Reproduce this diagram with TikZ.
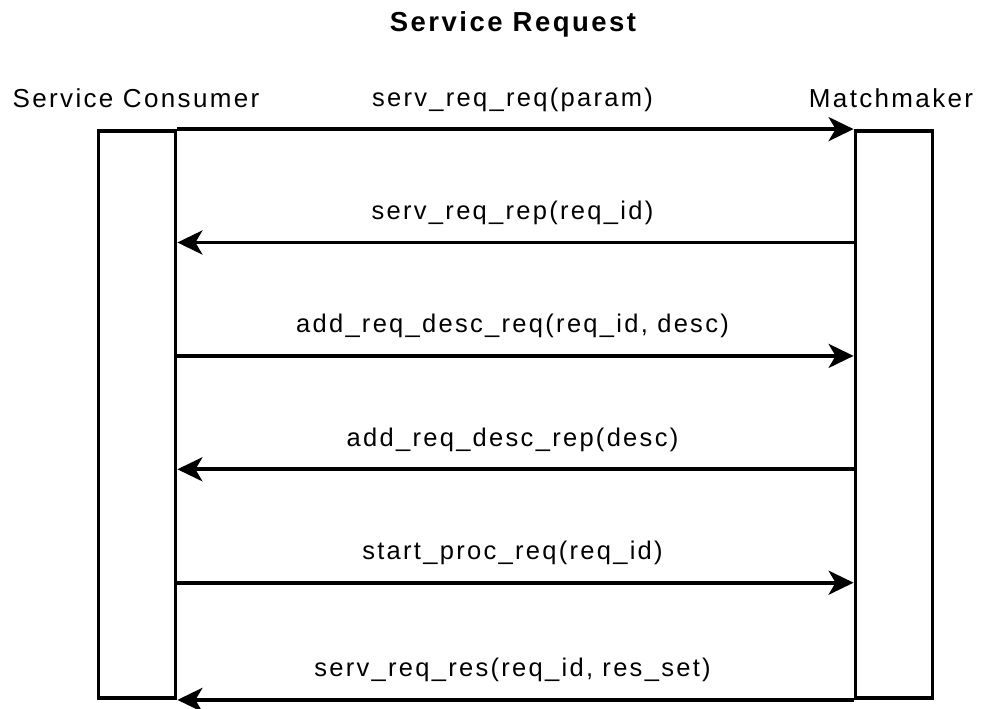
\documentclass[tikz,border=0pt]{standalone}
\usepackage{fontspec}
\setmainfont{Liberation Sans}[LetterSpace=9]
\usepackage{tikz}
\usetikzlibrary{arrows.meta,calc}

\begin{document}
\begin{tikzpicture}[x=1bp,y=-1bp,
        bar/.style={draw=black, line width=3.8bp, minimum width=77bp, minimum height=567bp, inner sep=0pt},
        msg/.style={line width=3.8bp, -{Stealth[length=25bp, width=24bp, inset=7bp]}},
        lbl/.style={anchor=base, yshift=23bp, xshift=-3bp, inner sep=0pt, font=\fontsize{25.5bp}{30bp}\selectfont},
        who/.style={anchor=base, inner sep=0pt, font=\fontsize{26bp}{30bp}\selectfont}]
    \useasboundingbox (0,0) rectangle (982,709);
    \node[font=\fontsize{27.5bp}{30bp}\selectfont\bfseries, anchor=base] (title) at (513,32) {Service Request};
    % lifelines
    \node[bar] (cons) at (137,414.5) {};
    \node[bar] (mm) at (894,414.5) {};
    \node[who] (consname) at (136,108) {Service Consumer};
    \node[who] (mmname) at (891,108) {Matchmaker};
    % message ends
    \coordinate (c1) at (cons.north east);
    \coordinate (m1) at (mm.north west);
    \coordinate (c2) at ($(cons.north east)+(0,113.4)$);
    \coordinate (m2) at ($(mm.north west)+(0,113.4)$);
    \coordinate (c3) at ($(cons.north east)+(0,226.8)$);
    \coordinate (m3) at ($(mm.north west)+(0,226.8)$);
    \coordinate (c4) at ($(cons.north east)+(0,340.2)$);
    \coordinate (m4) at ($(mm.north west)+(0,340.2)$);
    \coordinate (c5) at ($(cons.north east)+(0,453.6)$);
    \coordinate (m5) at ($(mm.north west)+(0,453.6)$);
    \coordinate (c6) at (cons.south east);
    \coordinate (m6) at (mm.south west);
    % messages
    \draw[msg] (c1) -- node[lbl] {serv\_req\_req(param)} (m1);
    \draw[msg] (m2) -- node[lbl] {serv\_req\_rep(req\_id)} (c2);
    \draw[msg] (c3) -- node[lbl] {add\_req\_desc\_req(req\_id, desc)} (m3);
    \draw[msg] (m4) -- node[lbl] {add\_req\_desc\_rep(desc)} (c4);
    \draw[msg] (c5) -- node[lbl] {start\_proc\_req(req\_id)} (m5);
    \draw[msg] (m6) -- node[lbl] {serv\_req\_res(req\_id, res\_set)} (c6);
\end{tikzpicture}
\end{document}
